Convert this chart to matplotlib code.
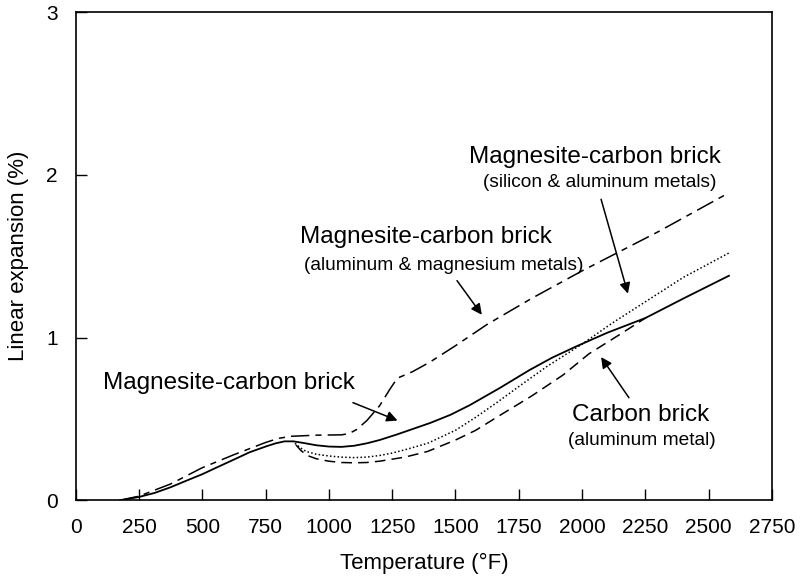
import matplotlib
matplotlib.use("Agg")
import matplotlib.pyplot as plt

plt.rcParams['font.family'] = ['Liberation Sans', 'DejaVu Sans']

# magnesite-carbon brick (plain), solid
t_mc = [175, 250, 312, 375, 437, 500, 562, 625, 687, 750, 790, 825, 860, 900, 950, 1000, 1050, 1100,
        1150, 1200, 1270, 1335, 1400, 1480, 1557, 1675, 1792, 1880, 1976, 2100, 2250, 2400, 2580]
v_mc = [0, 0.02, 0.045, 0.08, 0.12, 0.16, 0.205, 0.25, 0.295, 0.33, 0.35, 0.362, 0.362, 0.352, 0.338,
        0.33, 0.328, 0.335, 0.35, 0.37, 0.405, 0.44, 0.475, 0.525, 0.585, 0.69, 0.80, 0.875, 0.945,
        1.03, 1.12, 1.24, 1.38]

# magnesite-carbon brick (aluminum & magnesium metals), dash-dot
t_almg = [175, 250, 375, 500, 625, 750, 800, 850, 950, 1050, 1080, 1110, 1150, 1200, 1240, 1270,
          1330, 1400, 1500, 1624, 1800, 2000, 2300, 2580]
v_almg = [0, 0.025, 0.10, 0.20, 0.28, 0.355, 0.38, 0.393, 0.40, 0.402, 0.41, 0.435, 0.49, 0.58,
          0.68, 0.75, 0.79, 0.85, 0.95, 1.08, 1.24, 1.41, 1.65, 1.89]

# magnesite-carbon brick (silicon & aluminum metals), dotted
t_sial = [866, 885, 910, 950, 1000, 1050, 1100, 1150, 1200, 1250, 1300, 1390, 1500, 1580, 1663,
          1760, 1859, 2000, 2120, 2250, 2400, 2580]
v_sial = [0.35, 0.325, 0.30, 0.283, 0.272, 0.265, 0.262, 0.265, 0.275, 0.29, 0.31, 0.35, 0.43,
          0.51, 0.60, 0.71, 0.82, 0.96, 1.09, 1.22, 1.37, 1.52]

# carbon brick (aluminum metal), dashed
t_cb = [870, 890, 915, 950, 1000, 1050, 1100, 1150, 1200, 1300, 1390, 1500, 1580, 1663, 1800,
        1925, 2027, 2150, 2250]
v_cb = [0.34, 0.305, 0.275, 0.255, 0.24, 0.232, 0.23, 0.232, 0.24, 0.265, 0.30, 0.37, 0.43,
        0.51, 0.64, 0.77, 0.90, 1.02, 1.12]

x_ticks = [0, 250, 500, 750, 1000, 1250, 1500, 1750, 2000, 2250, 2500, 2750]
y_ticks = [0, 1, 2, 3]

fig = plt.figure(figsize=(8.05, 5.81), dpi=100)
ax = fig.add_axes([0.094, 0.139, 0.865, 0.840])

ax.plot(t_mc, v_mc, color='black', lw=1.3)
ax.plot(t_almg, v_almg, color='black', lw=1.1, linestyle=(0, (12, 4, 4, 4)))
ax.plot(t_sial, v_sial, color='black', lw=1.1, linestyle=(0, (1, 1.5)))
ax.plot(t_cb, v_cb, color='black', lw=1.1, linestyle=(0, (7, 4)))

ax.set_xlim(0, 2750)
ax.set_ylim(0, 3)
ax.set_xticks(x_ticks)
ax.set_yticks(y_ticks)
ax.tick_params(direction='in', length=8, width=1, labelsize=15)
ax.tick_params(axis='x', pad=13)
ax.tick_params(axis='y', pad=13)
for s in ax.spines.values():
    s.set_linewidth(1.2)

ax.set_xlabel('Temperature (°F)', fontsize=16, labelpad=11)
ax.set_ylabel('Linear expansion (%)', fontsize=16, labelpad=12)

arr = dict(arrowstyle='-|>', color='black', lw=1.1, mutation_scale=16, shrinkA=0, shrinkB=0)

ax.text(604, 0.72, 'Magnesite-carbon brick', fontsize=17.5, ha='center', va='center')
ax.annotate('', xy=(1271, 0.49), xytext=(1095, 0.60), arrowprops=arr)

ax.text(1385, 1.62, 'Magnesite-carbon brick', fontsize=17.5, ha='center', va='center')
ax.text(1455, 1.445, '(aluminum & magnesium metals)', fontsize=13.8, ha='center', va='center')
ax.annotate('', xy=(1604, 1.14), xytext=(1506, 1.35), arrowprops=arr)

ax.text(2052, 2.11, 'Magnesite-carbon brick', fontsize=17.5, ha='center', va='center')
ax.text(2071, 1.955, '(silicon & aluminum metals)', fontsize=13.8, ha='center', va='center')
ax.annotate('', xy=(2181, 1.27), xytext=(2075, 1.85), arrowprops=arr)

ax.text(2232, 0.525, 'Carbon brick', fontsize=17.5, ha='center', va='center')
ax.text(2235, 0.37, '(aluminum metal)', fontsize=13.8, ha='center', va='center')
ax.annotate('', xy=(2075, 0.88), xytext=(2185, 0.63), arrowprops=arr)

fig.savefig('out.png', dpi=100)
